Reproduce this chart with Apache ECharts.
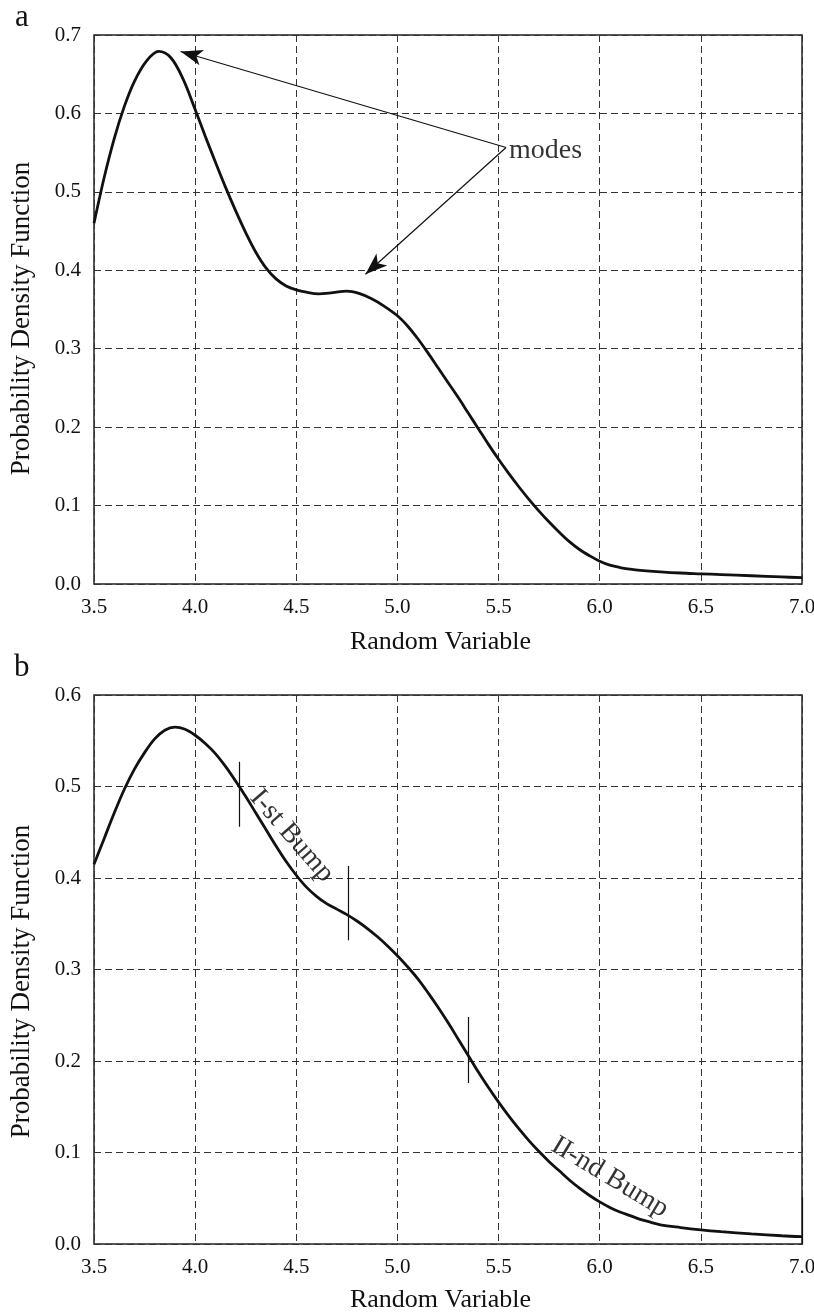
<!DOCTYPE html>
<html>
<head>
<meta charset="utf-8">
<script src="https://cdn.jsdelivr.net/npm/echarts@6/dist/echarts.min.js"></script>
<style>
html,body{margin:0;padding:0;background:#fff;overflow:hidden;}
#c{width:814px;height:1315px;}
</style>
</head>
<body>
<div id="c"></div>
<script>
// ---- Data ----
var xTicks = [3.5, 4.0, 4.5, 5.0, 5.5, 6.0, 6.5, 7.0];
var yTicksA = [0.0, 0.1, 0.2, 0.3, 0.4, 0.5, 0.6, 0.7];
var yTicksB = [0.0, 0.1, 0.2, 0.3, 0.4, 0.5, 0.6];

var xA = [3.50, 3.55, 3.60, 3.65, 3.70, 3.76, 3.82, 3.88, 3.94, 4.00, 4.05, 4.10, 4.15, 4.20, 4.25, 4.30, 4.35, 4.40, 4.45, 4.50, 4.55, 4.61, 4.68, 4.75, 4.81, 4.87, 4.93, 5.00, 5.05, 5.10, 5.15, 5.20, 5.25, 5.30, 5.35, 5.40, 5.45, 5.50, 5.55, 5.60, 5.65, 5.70, 5.75, 5.80, 5.85, 5.90, 5.95, 6.00, 6.05, 6.10, 6.15, 6.20, 6.30, 6.40, 6.50, 6.60, 6.75, 6.90, 7.00];
var yA = [0.460, 0.518, 0.568, 0.609, 0.641, 0.667, 0.679, 0.671, 0.644, 0.605, 0.571, 0.538, 0.506, 0.476, 0.448, 0.423, 0.403, 0.389, 0.380, 0.375, 0.372, 0.370, 0.3715, 0.3735, 0.3705, 0.364, 0.355, 0.342, 0.329, 0.313, 0.295, 0.276, 0.257, 0.238, 0.218, 0.198, 0.178, 0.159, 0.141, 0.124, 0.108, 0.093, 0.079, 0.066, 0.054, 0.044, 0.036, 0.029, 0.024, 0.021, 0.019, 0.0175, 0.0155, 0.014, 0.013, 0.012, 0.0105, 0.009, 0.008];

var xB = [3.50, 3.55, 3.60, 3.65, 3.70, 3.75, 3.80, 3.85, 3.90, 3.95, 4.00, 4.05, 4.10, 4.15, 4.20, 4.25, 4.30, 4.35, 4.40, 4.45, 4.50, 4.55, 4.60, 4.65, 4.70, 4.75, 4.80, 4.85, 4.90, 4.95, 5.00, 5.05, 5.10, 5.15, 5.20, 5.25, 5.30, 5.35, 5.40, 5.45, 5.50, 5.55, 5.60, 5.65, 5.70, 5.75, 5.80, 5.85, 5.90, 5.95, 6.00, 6.05, 6.10, 6.15, 6.20, 6.25, 6.30, 6.40, 6.50, 6.60, 6.75, 6.90, 7.00];
var yB = [0.415, 0.443, 0.471, 0.497, 0.519, 0.537, 0.552, 0.5615, 0.5648, 0.5625, 0.556, 0.547, 0.536, 0.522, 0.506, 0.489, 0.471, 0.453, 0.435, 0.418, 0.403, 0.390, 0.380, 0.372, 0.366, 0.360, 0.353, 0.345, 0.336, 0.326, 0.315, 0.303, 0.290, 0.275, 0.259, 0.242, 0.224, 0.206, 0.188, 0.171, 0.155, 0.140, 0.126, 0.113, 0.101, 0.090, 0.080, 0.070, 0.061, 0.053, 0.046, 0.040, 0.035, 0.031, 0.027, 0.024, 0.021, 0.018, 0.0155, 0.0135, 0.011, 0.009, 0.008];

// annotation: "modes" arrows (from label point to the two modes)
var modesFrom = [5.537, 0.5565];
var modesTo = [[3.928, 0.679], [4.842, 0.395]];
// bump boundary tick segments in panel b: [x, yLow, yHigh]
var bumpTicks = [[4.22, 0.456, 0.527], [4.755, 0.332, 0.413], [5.35, 0.176, 0.248], [7.0, -0.002, 0.051]];
var bumpLabels = [{name: 'I-st Bump', x: 4.478, y: 0.446, rot: -49}, {name: 'II-nd Bump', x: 6.05, y: 0.073, rot: -31}];

// ---- Build ----
var FONT = "'Liberation Serif','Times New Roman','DejaVu Serif',serif";
var TXT = '#111';
function pairs(xs, ys){ return xs.map(function(x,i){return [x, ys[i]];}); }

function xAxisCfg(idx, gap){
  return {
    type: 'value', gridIndex: idx, min: xTicks[0], max: xTicks[xTicks.length-1], interval: 0.5,
    name: 'Random Variable', nameLocation: 'middle', nameGap: gap,
    nameTextStyle: {fontFamily: FONT, fontSize: 26, color: TXT, padding: [0, 15, 0, 0]},
    axisLine: {show: false}, axisTick: {show: false},
    axisLabel: {fontFamily: FONT, fontSize: 21, color: TXT, margin: 13, formatter: function(v){return v.toFixed(1);}},
    splitLine: {show: true, lineStyle: {color: '#333', width: 1, type: [7, 4]}}
  };
}
function yAxisCfg(idx, ticks, shift){
  return {
    type: 'value', gridIndex: idx, min: ticks[0], max: ticks[ticks.length-1], interval: 0.1,
    name: 'Probability Density Function', nameLocation: 'middle', nameGap: 59,
    nameTextStyle: {fontFamily: FONT, fontSize: 27, color: TXT, padding: [0, shift, 0, 0]},
    axisLine: {show: false}, axisTick: {show: false},
    axisLabel: {fontFamily: FONT, fontSize: 21, color: TXT, margin: 13, formatter: function(v){return v.toFixed(1);}},
    splitLine: {show: true, lineStyle: {color: '#333', width: 1, type: [7, 4]}}
  };
}

var chart = echarts.init(document.getElementById('c'), null, {renderer: 'canvas'});
var option = {
  backgroundColor: '#fff',
  animation: false,
  title: [
    {text: 'a', left: 10, top: -3, textStyle: {fontFamily: FONT, fontSize: 31, fontWeight: 'normal', color: TXT}},
    {text: 'b', left: 9, top: 647, textStyle: {fontFamily: FONT, fontSize: 31, fontWeight: 'normal', color: TXT}}
  ],
  grid: [
    {left: 94, top: 35, width: 708, height: 549, show: true, borderColor: '#222', borderWidth: 1.5, backgroundColor: 'transparent', outerBoundsMode: 'none', containLabel: false},
    {left: 94, top: 695, width: 708, height: 549, show: true, borderColor: '#222', borderWidth: 1.5, backgroundColor: 'transparent', outerBoundsMode: 'none', containLabel: false}
  ],
  xAxis: [xAxisCfg(0, 45), xAxisCfg(1, 43)],
  yAxis: [yAxisCfg(0, yTicksA, 18), yAxisCfg(1, yTicksB, 24)],
  series: [
    {type: 'line', xAxisIndex: 0, yAxisIndex: 0, data: pairs(xA, yA), smooth: 0.35, showSymbol: false,
     lineStyle: {color: '#111', width: 2.8}, z: 5},
    {type: 'line', xAxisIndex: 1, yAxisIndex: 1, data: pairs(xB, yB), smooth: 0.35, showSymbol: false,
     lineStyle: {color: '#111', width: 2.8}, z: 5},
    {type: 'lines', coordinateSystem: 'cartesian2d', xAxisIndex: 0, yAxisIndex: 0,
     symbol: ['none', 'arrow'], symbolSize: [1, [12, 22]],
     lineStyle: {color: '#111', width: 1.2, opacity: 1},
     itemStyle: {color: '#111'},
     data: modesTo.map(function(t){return {coords: [modesFrom, t]};}), z: 6},
    {type: 'scatter', xAxisIndex: 0, yAxisIndex: 0, symbolSize: 0, silent: true,
     data: [modesFrom],
     label: {show: true, position: 'right', distance: 3, offset: [0, 3], formatter: 'modes', fontFamily: FONT, fontSize: 28, color: '#000'}},
    {type: 'lines', coordinateSystem: 'cartesian2d', xAxisIndex: 1, yAxisIndex: 1,
     symbol: 'none', lineStyle: {color: '#111', width: 1.2, opacity: 1},
     data: bumpTicks.map(function(t){return {coords: [[t[0], t[1]], [t[0], t[2]]]};}), z: 6},
    {type: 'scatter', xAxisIndex: 1, yAxisIndex: 1, symbolSize: 0, silent: true,
     data: bumpLabels.map(function(b){return {value: [b.x, b.y], name: b.name,
       label: {rotate: b.rot}};}),
     label: {show: true, position: 'inside', formatter: '{b}', fontFamily: FONT, fontSize: 28, color: '#000'}}
  ]
};
chart.setOption(option);
</script>
</body>
</html>
